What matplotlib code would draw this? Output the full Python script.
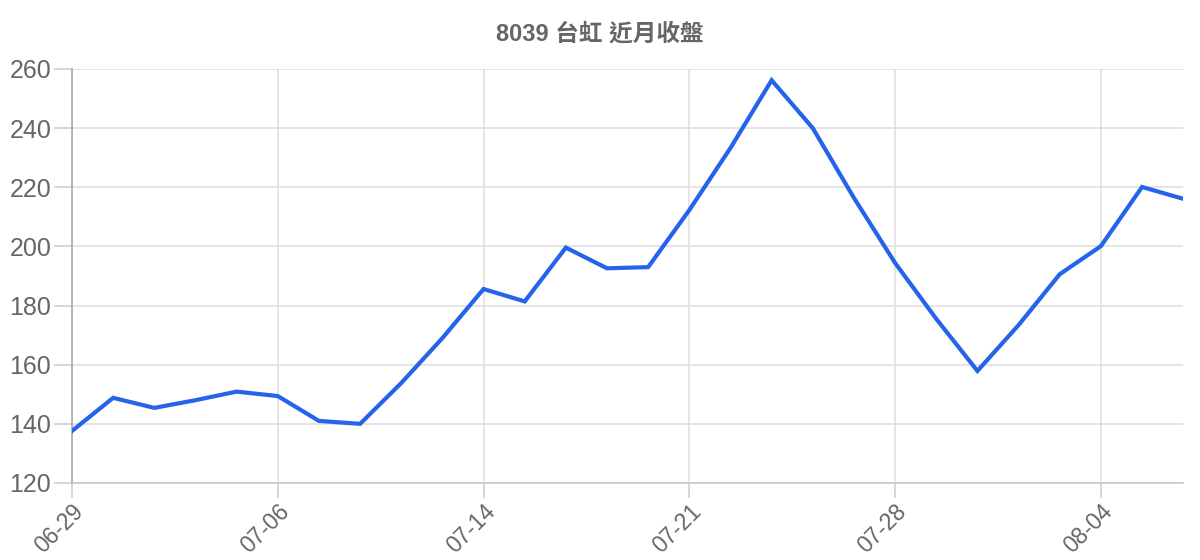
import matplotlib
matplotlib.use("Agg")
from matplotlib import pyplot as plt
import numpy as np

plt.rcParams['font.family'] = ['Liberation Sans', 'Noto Sans CJK TC', 'DejaVu Sans']

# 日期与收盘价
dates = ["06-29", "06-30", "07-01", "07-02", "07-03",
         "07-06", "07-07", "07-08", "07-09", "07-13",
         "07-14", "07-15", "07-16", "07-17", "07-20",
         "07-21", "07-22", "07-23", "07-24", "07-27",
         "07-28", "07-29", "07-30", "07-31", "08-03",
         "08-04", "08-05", "08-06"]
close = [137.6, 148.8, 145.4, 148.0, 150.9,
         149.4, 141.0, 140.0, 153.8, 169.0,
         185.6, 181.4, 199.6, 192.6, 193.0,
         212.3, 233.3, 256.2, 240.0, 216.4,
         194.4, 175.5, 157.9, 173.4, 190.6,
         200.1, 220.1, 216.1]
yticks = [120, 140, 160, 180, 200, 220, 240, 260]

fig = plt.figure(figsize=(12, 5.6), dpi=100)
ax = fig.add_axes([0.06, 0.1375, 0.926, 0.7393])

x = np.arange(len(dates))
ax.plot(x, close, color="#2563eb", lw=3, solid_joinstyle="miter", zorder=3)

ax.set_xlim(0, len(dates) - 1)
ax.set_ylim(120, 260)
ax.set_yticks(yticks)
ax.set_xticks(x[::5])
ax.set_xticklabels(dates[::5], rotation=45, ha="right", rotation_mode="anchor")

ax.grid(True, color="#e0e0e0", lw=1.2)
ax.tick_params(axis="both", colors="#d0d0d0", width=1.2, labelcolor="#666666")
ax.tick_params(axis="y", length=13, pad=2, labelsize=18)
ax.tick_params(axis="x", length=11, pad=1, labelsize=16.5)
for s in ["top", "right"]:
    ax.spines[s].set_visible(False)
ax.spines["left"].set_color("#aaaaaa")
ax.spines["bottom"].set_color("#c8c8c8")
ax.spines["left"].set_linewidth(1.2)
ax.spines["bottom"].set_linewidth(1.2)

fig.suptitle("8039 台虹 近月收盤", x=0.5, y=0.96, fontsize=17,
             fontweight="bold", color="#666666")

fig.savefig("out.png", dpi=100)
